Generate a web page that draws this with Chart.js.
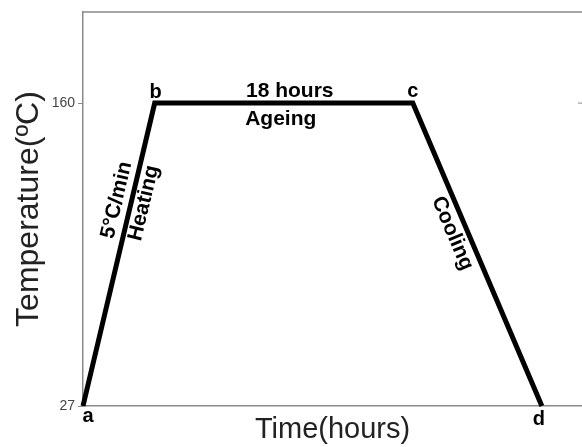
<!DOCTYPE html>
<html>
<head>
<meta charset="utf-8">
<script src="https://cdn.jsdelivr.net/npm/chart.js@4/dist/chart.umd.min.js"></script>
<style>
  html, body { margin: 0; padding: 0; background: #fff; }
  #wrap { width: 582px; height: 447px; }
</style>
</head>
<body>
<div id="wrap"><canvas id="heatChart"></canvas></div>
<script>
// schedule points (time in hours, schematic), temperature in degC
const pointNames = ['a', 'b', 'c', 'd'];
const timeHours = [0, 5, 23, 32];
const tempC = [27, 160, 160, 27];
const yTicks = [27, 160];

const FONT = '"Liberation Sans", Arial, sans-serif';

// draws frame, point letters and the stage annotations
const annotate = {
  id: 'annotate',
  afterDraw(chart) {
    const ctx = chart.ctx;
    const x = chart.scales.x, y = chart.scales.y;
    const area = chart.chartArea;
    const px = timeHours.map(v => x.getPixelForValue(v));
    const py = tempC.map(v => y.getPixelForValue(v));

    ctx.save();
    // top frame line and small right tick
    ctx.strokeStyle = '#8a8a8a';
    ctx.lineWidth = 1.5;
    ctx.beginPath();
    ctx.moveTo(area.left, area.top);
    ctx.lineTo(area.right, area.top);
    ctx.stroke();
    ctx.lineWidth = 1;
    ctx.beginPath();
    ctx.moveTo(area.right - 4, y.getPixelForValue(160));
    ctx.lineTo(area.right, y.getPixelForValue(160));
    ctx.stroke();

    ctx.fillStyle = '#000';
    ctx.textAlign = 'center';
    ctx.textBaseline = 'alphabetic';
    // point letters
    ctx.font = 'bold 20px ' + FONT;
    ctx.fillText(pointNames[0], px[0] + 5, py[0] + 16);
    ctx.fillText(pointNames[1], px[1] + 1, py[1] - 5);
    ctx.fillText(pointNames[2], px[2], py[2] - 6);
    ctx.fillText(pointNames[3], px[3] - 3, py[3] + 19);

    // ageing plateau
    ctx.font = 'bold 21px ' + FONT;
    ctx.fillText('18 hours', (px[1] + px[2]) / 2 + 6, py[1] - 6);
    ctx.fillText('Ageing', (px[1] + px[2]) / 2 - 3, py[1] + 22);

    ctx.textBaseline = 'middle';
    // heating slope
    const upAng = Math.atan2(py[1] - py[0], px[1] - px[0]);
    const along = (i, j, f) => [px[i] + (px[j] - px[i]) * f, py[i] + (py[j] - py[i]) * f];
    let p = along(0, 1, 0.68);
    ctx.save();
    ctx.translate(p[0] - 15, p[1]);
    ctx.rotate(upAng);
    ctx.fillText('5°C/min', 0, 0);
    ctx.restore();
    p = along(0, 1, 0.67);
    ctx.save();
    ctx.translate(p[0] + 13, p[1]);
    ctx.rotate(upAng);
    ctx.fillText('Heating', 0, 0);
    ctx.restore();

    // cooling slope
    const downAng = Math.atan2(py[3] - py[2], px[3] - px[2]);
    p = along(2, 3, 0.43);
    ctx.save();
    ctx.translate(p[0] - 16, p[1]);
    ctx.rotate(downAng);
    ctx.fillText('Cooling', 0, 0);
    ctx.restore();
    ctx.restore();
  }
};

new Chart(document.getElementById('heatChart'), {
  type: 'scatter',
  data: {
    datasets: [{
      data: timeHours.map((t, i) => ({ x: t, y: tempC[i] })),
      showLine: true,
      borderColor: '#000',
      borderWidth: 5,
      pointRadius: 0,
      borderJoinStyle: 'miter',
      clip: false
    }]
  },
  options: {
    responsive: true,
    maintainAspectRatio: false,
    animation: false,
    layout: { padding: { top: 12, right: 0, left: 0, bottom: 0 } },
    plugins: { legend: { display: false }, tooltip: { enabled: false } },
    scales: {
      x: {
        type: 'linear',
        min: 0,
        max: 34.8,
        afterFit(scale) { scale.height = 41; },
        ticks: { display: false },
        grid: { display: false, drawTicks: false },
        border: { display: true, color: '#8a8a8a', width: 1.5 },
        title: {
          display: true,
          text: 'Time(hours)',
          color: '#222',
          font: { family: FONT, size: 29 },
          padding: { top: 0, bottom: 0 }
        }
      },
      y: {
        min: 27,
        max: 200,
        afterFit(scale) { scale.width = 83; },
        afterBuildTicks(scale) { scale.ticks = yTicks.map(v => ({ value: v })); },
        ticks: { color: '#444', font: { family: FONT, size: 14 }, padding: 3 },
        grid: { drawOnChartArea: false, tickLength: 5, color: '#8a8a8a' },
        border: { display: true, color: '#8a8a8a', width: 1.5 },
        title: {
          display: true,
          text: 'Temperature(ºC)',
          color: '#222',
          font: { family: FONT, size: 32 },
          padding: { top: 10, bottom: 0 }
        }
      }
    }
  },
  plugins: [annotate]
});
</script>
</body>
</html>
